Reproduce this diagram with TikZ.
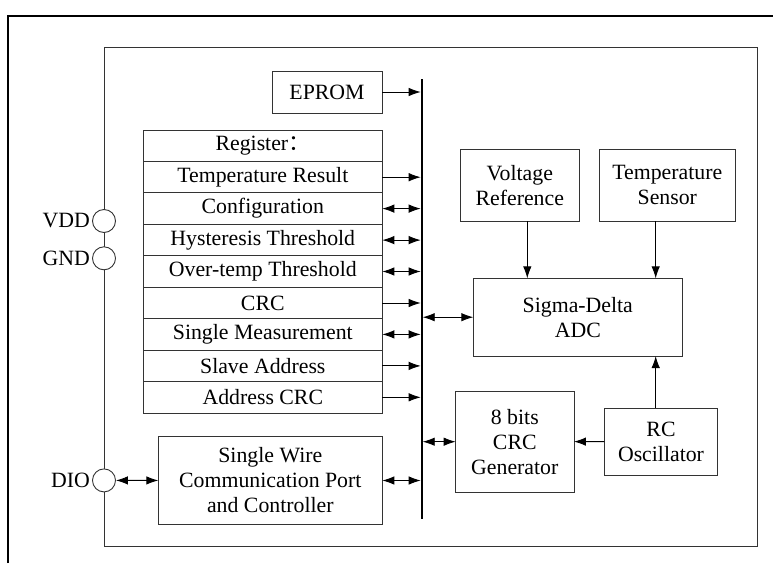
\documentclass[tikz,border=0pt]{standalone}
\usepackage{fontspec}
\setmainfont{Liberation Serif}
\newfontfamily\cjk{Noto Sans CJK SC}
\usetikzlibrary{arrows.meta}

\begin{document}
\begin{tikzpicture}[x=1pt,y=-1pt,
	font=\fontsize{21.8}{25}\selectfont,
	frame/.style={ draw=black!80, line width=0.9pt },
	blk/.style={ draw=black!80, line width=0.9pt, align=center, inner sep=0pt, outer sep=0pt },
	reg/.style={ blk, minimum width=239pt, minimum height=31.45pt },
	pin/.style={ circle, draw=black!80, line width=0.9pt, fill=white, inner sep=0pt, minimum size=23pt },
	tobus/.style={ line width=0.9pt, -{Latex[length=12pt,width=8.5pt]} },
	bidir/.style={ line width=0.9pt, {Latex[length=12pt,width=8.5pt]}-{Latex[length=12pt,width=8.5pt]} }
]
\useasboundingbox (0,0) rectangle (773,563);

% outer and chip frames
\draw[line width=2pt] (8,563) -- (8,16) -- (773,16);
\draw[frame] (104,47) rectangle (757.7,546.7);

% bus
\coordinate (bustop) at (421.7,79);
\coordinate (busbot) at (421.7,519);
\draw[line width=2pt] (bustop) -- (busbot);

% pins
\node at (104,221) (vdd) [pin,label={[inner sep=2pt]left:VDD}] {};
\node at (104,258.3) (gnd) [pin,label={[inner sep=2pt]left:GND}] {};
\node at (104,480.4) (dio) [pin,label={[inner sep=2pt]left:DIO}] {};

\node at (327,92) (eprom) [blk,minimum width=110pt,minimum height=42pt] {EPROM};
\draw[tobus,shorten >=1pt] (eprom) -- (eprom -| bustop);

% registers
\node at (262.8,145.7) (rhead) [reg] {Register{\cjk ：}};
\node at (262.8,177.2) (rtemp) [reg] {Temperature Result};
\draw[tobus,shorten >=1pt] (rtemp.east) -- (rtemp.east -| bustop);
\node at (262.8,208.6) (rconf) [reg] {Configuration};
\draw[bidir,shorten >=1pt] (rconf.east) -- (rconf.east -| bustop);
\node at (262.8,240.1) (rhyst) [reg] {Hysteresis Threshold};
\draw[bidir,shorten >=1pt] (rhyst.east) -- (rhyst.east -| bustop);
\node at (262.8,271.5) (rover) [reg] {Over-temp Threshold};
\draw[bidir,shorten >=1pt] (rover.east) -- (rover.east -| bustop);
\node at (262.8,303.0) (rcrc) [reg] {CRC};
\draw[tobus,shorten >=1pt] (rcrc.east) -- (rcrc.east -| bustop);
\node at (262.8,334.4) (rsingle) [reg] {Single Measurement};
\draw[bidir,shorten >=1pt] (rsingle.east) -- (rsingle.east -| bustop);
\node at (262.8,365.9) (rslave) [reg] {Slave Address};
\draw[tobus,shorten >=1pt] (rslave.east) -- (rslave.east -| bustop);
\node at (262.8,397.3) (raddr) [reg] {Address CRC};
\draw[tobus,shorten >=1pt] (raddr.east) -- (raddr.east -| bustop);

% single wire port
\node at (270.3,480.5) (swp) [blk,minimum width=224pt,minimum height=87.6pt] {Single Wire\\Communication Port\\and Controller};
\draw[bidir] (dio) -- (swp);
\draw[bidir,shorten >=1pt] (swp.east) -- (swp.east -| bustop);

% analog side
\node at (519.8,185.3) (vref) [blk,minimum width=119pt,minimum height=72pt] {Voltage\\Reference};
\node at (667.3,185.3) (tsens) [blk,minimum width=136.7pt,minimum height=72pt] {Temperature\\Sensor};
\node at (577.8,317.2) (adc) [blk,minimum width=209pt,minimum height=77.7pt] {Sigma-Delta\\ADC};
\draw[tobus] ([xshift=7.5pt]vref.south) -- ([xshift=7.5pt]vref.south |- adc.north);
\draw[tobus] ([xshift=-11.6pt]tsens.south) -- ([xshift=-11.6pt]tsens.south |- adc.north);
\draw[bidir,shorten <=1pt] (adc.west -| bustop) -- (adc.west);

\node at (514.8,441.7) (crcg) [blk,minimum width=118.3pt,minimum height=100.7pt] {8 bits\\CRC\\Generator};
\node at (661,441.5) (rco) [blk,minimum width=113.4pt,minimum height=67pt] {RC\\Oscillator};
\draw[tobus] (rco) -- (crcg);
\draw[tobus] ([xshift=-5.3pt]rco.north) -- ([xshift=-5.3pt]rco.north |- adc.south);
\draw[bidir,shorten <=1pt] (crcg.west -| bustop) -- (crcg.west);

\end{tikzpicture}
\end{document}
